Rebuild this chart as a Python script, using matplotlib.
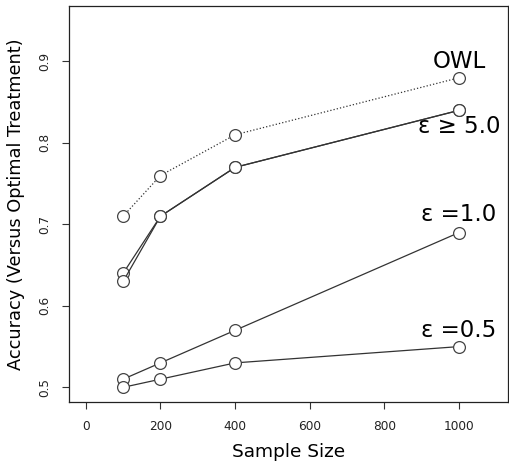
import matplotlib
matplotlib.use("Agg")
import matplotlib.pyplot as plt

# sample sizes and accuracies
sample_size = [100, 200, 400, 1000]
acc_owl = [0.71, 0.76, 0.81, 0.88]
acc_eps5 = [0.64, 0.71, 0.77, 0.84]
acc_eps10 = [0.63, 0.71, 0.77, 0.84]
acc_eps1 = [0.51, 0.53, 0.57, 0.69]
acc_eps05 = [0.50, 0.51, 0.53, 0.55]

labels = ["OWL", "ε ≥ 5.0", "ε =1.0", "ε =0.5"]
label_y = [0.90, 0.82, 0.712, 0.57]

plt.rcParams['font.family'] = 'DejaVu Sans'

fig = plt.figure(figsize=(5.09, 4.65), dpi=100)
ax = fig.add_axes([0.1356, 0.1355, 0.8624, 0.8515])

mk = dict(marker='o', markersize=8.5, markerfacecolor='white',
          markeredgecolor='#444444', markeredgewidth=0.9, color='#333333')

ax.plot(sample_size, acc_owl, linestyle=':', linewidth=0.9, **mk)
for serie in (acc_eps5, acc_eps10, acc_eps1, acc_eps05):
    ax.plot(sample_size, serie, linestyle='-', linewidth=0.9, **mk)

for txt, y in zip(labels, label_y):
    ax.text(1000, y, txt, ha='center', va='center', fontsize=16.5)

ax.set_xlim(-45, 1131)
ax.set_ylim(0.482, 0.968)
ax.set_xticks([0, 200, 400, 600, 800, 1000])
ax.set_yticks([0.5, 0.6, 0.7, 0.8, 0.9])
ax.set_yticklabels(['0.5', '0.6', '0.7', '0.8', '0.9'], rotation=90, va='center')
ax.tick_params(labelsize=8.7, length=5, width=0.8, color='#333333',
               labelcolor='#222222', pad=8)

ax.set_xlabel('Sample Size', fontsize=13.3, labelpad=7)
ax.set_ylabel('Accuracy (Versus Optimal Treatment)', fontsize=12.8, labelpad=9)

for s in ax.spines.values():
    s.set_linewidth(0.9)
    s.set_color('#222222')

fig.savefig('out.png', dpi=100)
